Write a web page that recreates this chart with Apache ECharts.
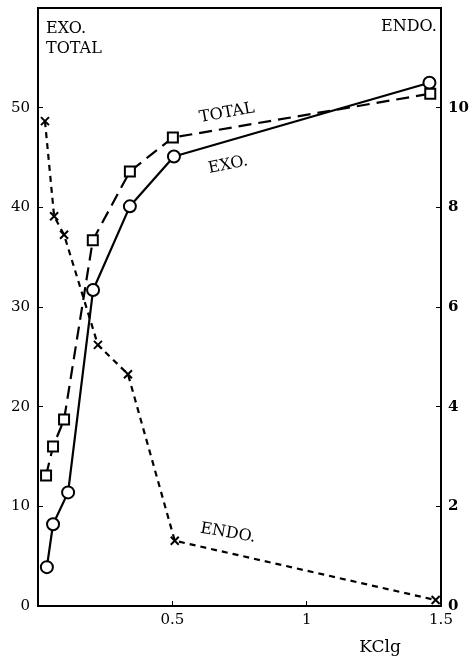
<!DOCTYPE html>
<html>
<head>
<meta charset="utf-8">
<script src="https://cdn.jsdelivr.net/npm/echarts@6/dist/echarts.min.js"></script>
<style>
  html, body { margin: 0; padding: 0; background: #fff; }
  #chart { width: 474px; height: 659px; }
</style>
</head>
<body>
<div id="chart"></div>
<script>
    // KCl (g) on x, EXO / TOTAL on left axis, ENDO on right axis
    var exoX = [0.033, 0.056, 0.112, 0.205, 0.342, 0.506, 1.457];
    var exoY = [3.9, 8.2, 11.4, 31.7, 40.1, 45.1, 52.5];

    var totalX = [0.030, 0.056, 0.097, 0.204, 0.342, 0.502, 1.460];
    var totalY = [13.1, 16.0, 18.7, 36.7, 43.6, 47.0, 51.4];

    var endoX = [0.026, 0.060, 0.097, 0.223, 0.335, 0.509, 1.480];
    var endoY = [9.73, 7.82, 7.45, 5.24, 4.65, 1.31, 0.12];

    var xTicks = [0.5, 1, 1.5];

    function pairs(xs, ys) {
        var out = [];
        for (var i = 0; i < xs.length; i++) {
            out.push([xs[i], ys[i]]);
        }
        return out;
    }

    var serif = 'DejaVu Serif';
    var chart = echarts.init(document.getElementById('chart'));

    var option = {
        backgroundColor: '#fff',
        animation: false,
        textStyle: {fontFamily: serif, color: '#000'},
        grid: {
            left: 38,
            right: 33,
            top: 8,
            bottom: 53,
            containLabel: false,
            outerBoundsMode: 'none',
            show: true,
            borderColor: '#000',
            borderWidth: 2
        },
        xAxis: {
            type: 'value',
            min: 0,
            max: 1.5,
            interval: 0.5,
            axisLine: {lineStyle: {color: '#000', width: 2}},
            axisTick: {inside: true, length: 5, lineStyle: {color: '#000'}},
            splitLine: {show: false},
            axisLabel: {
                color: '#000',
                fontFamily: serif,
                fontSize: 15,
                margin: 7,
                formatter: function (v) {
                    return xTicks.indexOf(v) >= 0 ? String(v) : '';
                }
            }
        },
        yAxis: [
            {
                type: 'value',
                min: 0,
                max: 60,
                interval: 10,
                axisLine: {show: true, lineStyle: {color: '#000', width: 2}},
                axisTick: {show: true, inside: true, length: 5, lineStyle: {color: '#000'}},
                splitLine: {show: false},
                axisLabel: {
                    color: '#000',
                    fontFamily: serif,
                    fontSize: 15,
                    margin: 8,
                    formatter: function (v) { return v === 60 ? '' : v; }
                }
            },
            {
                type: 'value',
                min: 0,
                max: 12,
                interval: 2,
                position: 'right',
                axisLine: {show: true, lineStyle: {color: '#000', width: 2}},
                axisTick: {show: true, inside: true, length: 5, lineStyle: {color: '#000'}},
                splitLine: {show: false},
                axisLabel: {
                    color: '#000',
                    fontFamily: serif,
                    fontSize: 15,
                    fontWeight: 'bold',
                    margin: 7,
                    formatter: function (v) { return v === 12 ? '' : v; }
                }
            }
        ],
        graphic: [
            {type: 'text', left: 46, top: 21, style: {text: 'EXO.', font: '16px "DejaVu Serif"', fill: '#000'}},
            {type: 'text', left: 46, top: 41, style: {text: 'TOTAL', font: '16px "DejaVu Serif"', fill: '#000'}},
            {type: 'text', left: 381, top: 19, style: {text: 'ENDO.', font: '16px "DejaVu Serif"', fill: '#000'}},
            {type: 'text', x: 380, y: 648, style: {text: 'KClg', font: '17px "DejaVu Serif"', fill: '#000', align: 'center', verticalAlign: 'middle'}},
            {type: 'text', x: 227, y: 113, rotation: 0.18, style: {text: 'TOTAL', font: '16px "DejaVu Serif"', fill: '#000', align: 'center', verticalAlign: 'middle'}},
            {type: 'text', x: 228, y: 165, rotation: 0.2, style: {text: 'EXO.', font: '16px "DejaVu Serif"', fill: '#000', align: 'center', verticalAlign: 'middle'}},
            {type: 'text', x: 228, y: 533, rotation: -0.17, style: {text: 'ENDO.', font: '16px "DejaVu Serif"', fill: '#000', align: 'center', verticalAlign: 'middle'}}
        ],
        series: [
            {
                name: 'EXO.',
                type: 'line',
                data: pairs(exoX, exoY),
                symbol: 'circle',
                symbolSize: 12,
                itemStyle: {color: '#fff', borderColor: '#000', borderWidth: 2},
                lineStyle: {color: '#000', width: 2.2, type: 'solid'},
                z: 3
            },
            {
                name: 'TOTAL',
                type: 'line',
                data: pairs(totalX, totalY),
                symbol: 'rect',
                symbolSize: 10,
                itemStyle: {color: '#fff', borderColor: '#000', borderWidth: 2},
                lineStyle: {color: '#000', width: 2.2, type: [13, 7]},
                z: 3
            },
            {
                name: 'ENDO.',
                type: 'line',
                yAxisIndex: 1,
                data: pairs(endoX, endoY),
                symbol: 'path://M0,0L10,10M10,0L0,10',
                symbolSize: 8,
                itemStyle: {color: '#000', borderColor: '#000', borderWidth: 2},
                lineStyle: {color: '#000', width: 2.2, type: [6, 5]},
                z: 2
            }
        ]
    };

    chart.setOption(option);
</script>
</body>
</html>
